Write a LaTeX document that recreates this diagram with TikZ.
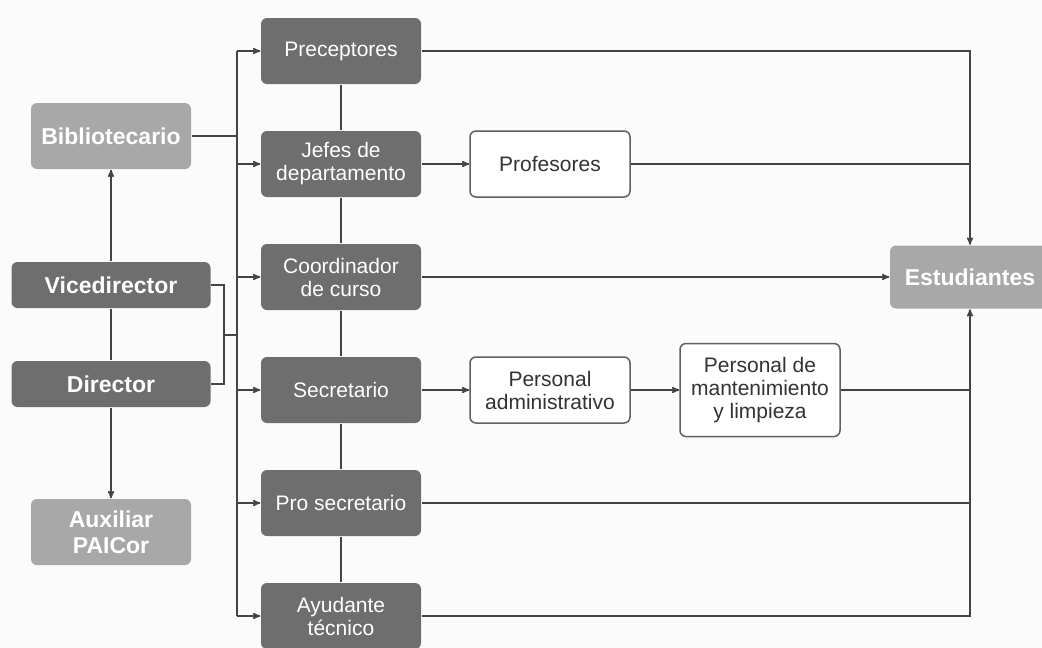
\documentclass[tikz,border=0pt]{standalone}
\usepackage{fontspec}
\setmainfont{Liberation Sans}
\usepackage{tikz}
\usetikzlibrary{arrows,positioning}

\definecolor{darkbox}{RGB}{110,110,110}
\definecolor{lightbox}{RGB}{168,168,168}
\definecolor{linegray}{RGB}{68,68,68}
\definecolor{bordergray}{RGB}{96,96,96}

\tikzset{
  cargo/.style={rectangle,rounded corners=6pt,fill=darkbox,text=white,align=center,
    minimum width=160pt,minimum height=66pt,inner sep=2pt,
    font=\fontsize{21}{23}\selectfont},
  jefe/.style={cargo,minimum width=199pt,minimum height=46pt,
    font=\bfseries\fontsize{23}{26}\selectfont},
  apoyo/.style={cargo,fill=lightbox,font=\bfseries\fontsize{23}{26}\selectfont},
  personal/.style={cargo,fill=white,text=black!80,draw=bordergray,line width=1.5pt},
}

\begin{document}
\begin{tikzpicture}[x=1pt,y=-1pt,>=stealth',line width=1.5pt,draw=linegray,node distance=113pt]
      \useasboundingbox[fill={rgb,255:red,251;green,251;blue,251}] (0,0) rectangle (1042,648);

      % columna central
      \node[cargo] (prec) at (341,51) {Preceptores};
      \node[cargo] (jefes) [below of=prec] {Jefes de\\departamento};
      \node[cargo] (coord) [below of=jefes] {Coordinador\\de curso};
      \node[cargo] (secre) [below of=coord] {Secretario};
      \node[cargo] (prosec) [below of=secre] {Pro secretario};
      \node[cargo] (ayud) [below of=prosec] {Ayudante\\técnico};

      % direccion
      \node[jefe] (vice) at (111,285) {Vicedirector};
      \node[jefe] (dir) [below of=vice,node distance=99pt] {Director};
      \node[apoyo] (bib) [above of=vice,node distance=149pt] {Bibliotecario};
      \node[apoyo] (aux) [below of=dir,node distance=148pt] {Auxiliar\\PAICor};

      % personal
      \node[personal] (prof) [right of=jefes,node distance=209pt] {Profesores};
      \node[personal] (padm) [right of=secre,node distance=209pt] {Personal\\administrativo};
      \node[personal,minimum height=93pt] (mant) [right of=padm,node distance=210pt] {Personal de\\mantenimiento\\y limpieza};
      \node[apoyo,minimum height=63pt] (est) [right of=coord,node distance=629pt] {Estudiantes};

      \coordinate (bustop) at (237,51);
      \coordinate (busbot) at (237,616);
      \coordinate (union) at (224,335);

      \draw (bustop) -- (busbot);
      \foreach \n in {prec,jefes,coord,secre,prosec,ayud}
        \draw[->] (bustop |- \n) -- (\n);

      \draw (bib) -- (bib -| bustop);
      \draw (vice.east) -| (union) |- (dir.east);
      \draw (union) -- (union -| bustop);
      \draw[->] (vice) -- (bib);
      \draw (vice) -- (dir);
      \draw[->] (dir) -- (aux);

      \draw (prec) -- (jefes) -- (coord) -- (secre) -- (prosec) -- (ayud);

      \path[->]
      (jefes) edge (prof)
      (secre) edge (padm)
      (padm) edge (mant)
      (coord) edge (est);

      \draw[->] (prec) -| (est);
      \draw[->] (ayud) -| (est);
      \draw (prof) -- (prof -| est);
      \draw (mant) -- (mant -| est);
      \draw (prosec) -- (prosec -| est);
    \end{tikzpicture}
\end{document}
